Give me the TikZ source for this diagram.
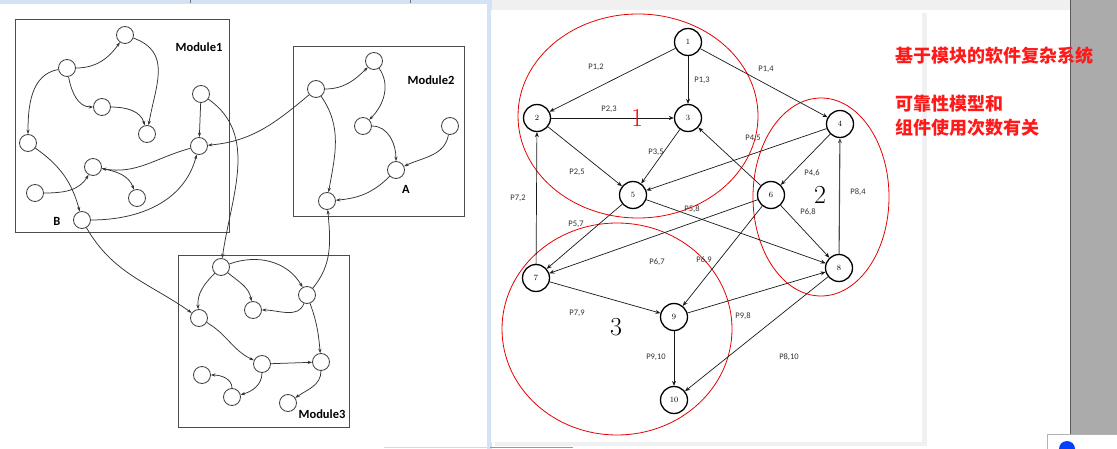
\documentclass[tikz,border=0pt]{standalone}
\usepackage{fontspec}
\newfontfamily\carlito{Carlito}
\newfontfamily\cjk{Noto Sans CJK SC}
\usetikzlibrary{arrows.meta}
\definecolor{topblue}{HTML}{D3E2F5}
\definecolor{topgray}{HTML}{F0F0F0}
\definecolor{barGray}{HTML}{ABABAB}
\definecolor{redtxt}{HTML}{FF1A1A}
\begin{document}
\begin{tikzpicture}[x=1pt,y=1pt,
  lnode/.style={circle, draw=black!75, line width=0.8pt, minimum size=17pt, inner sep=0pt, fill=white},
  ledge/.style={draw=black!80, line width=0.75pt, -{Stealth[length=4.5pt,width=3.2pt]}},
  modbox/.style={draw=black!70, line width=1pt},
  modlabel/.style={font=\carlito\bfseries\fontsize{12.5}{12.5}\selectfont, inner sep=0pt},
  rnode/.style={circle, draw=black, line width=1.3pt, minimum size=27pt, inner sep=0pt, fill=white, font=\fontsize{8}{8}\selectfont},
  redge/.style={draw=black!90, line width=0.7pt, -{Stealth[length=5pt,width=4pt]}},
  plabel/.style={font=\carlito\fontsize{8.5}{8.5}\selectfont, text=black!80, inner sep=0pt},
  redell/.style={draw=red!90!black, line width=0.8pt},
  bignum/.style={font=\fontsize{26}{26}\selectfont, inner sep=0pt},
  cjktext/.style={font=\cjk\bfseries\fontsize{18}{18}\selectfont, text=redtxt, anchor=west, inner sep=0pt}
]
\useasboundingbox (0,0) rectangle (1117,-449);
% ---------- background ----------
\fill[white] (0,0) rectangle (1117,-449);
\fill[topblue] (0,0) rectangle (487,-4);
\fill[topgray] (487,0) rectangle (1070,-10);
\fill[topblue] (487,0) rectangle (492,-449);
\draw[black!55, line width=0.8pt] (190,0) -- (190,-3);
\draw[black!55, line width=0.8pt] (410,0) -- (410,-3);
\draw[black!15, line width=0.8pt] (384,-447) -- (487,-447);
\fill[black!6] (922,-13) rectangle (927,-445);
\fill[black!6] (495,-442) rectangle (927,-446);
\fill[white] (491,-10) rectangle (922,-442);
\draw[black!40, line width=0.8pt] (490,-447) -- (573,-447);
\fill[barGray] (1070,0) rectangle (1117,-434);
\draw[black!65, line width=1pt] (1070,0) -- (1070,-434);
\filldraw[fill=white, draw=black!30] (1047,-434) rectangle (1120,-452);
\fill[blue!75!cyan] (1067,-449) circle (8);

% ---------- left figure: modules ----------
\draw[modbox] (15,-20) rectangle (229,-233);
\draw[modbox] (293,-47) rectangle (464,-217);
\draw[modbox] (178,-256) rectangle (349,-427);
\node[modlabel] (lab1) at (199,-47) {Module1};
\node[modlabel] (lab2) at (431,-80) {Module2};
\node[modlabel] (lab3) at (322,-414) {Module3};
\node[modlabel] (labB) at (57,-221) {B};
\node[modlabel] (labA) at (406,-189) {A};

% Module1 nodes
\node[lnode] (m1a) at (125,-35) {};
\node[lnode] (m1b) at (67,-68) {};
\node[lnode] (m1c) at (102,-107) {};
\node[lnode] (m1d) at (147,-134) {};
\node[lnode] (m1e) at (201,-94) {};
\node[lnode] (m1f) at (28,-143) {};
\node[lnode] (m1g) at (199,-146) {};
\node[lnode] (m1h) at (93,-167) {};
\node[lnode] (m1i) at (35,-193) {};
\node[lnode] (m1j) at (137,-198) {};
\node[lnode] (m1k) at (82,-220) {};
% Module2 nodes
\node[lnode] (m2a) at (316,-89) {};
\node[lnode] (m2b) at (374,-61) {};
\node[lnode] (m2c) at (363,-126) {};
\node[lnode] (m2d) at (450,-126) {};
\node[lnode] (m2e) at (396,-170) {};
\node[lnode] (m2f) at (327,-201) {};
% Module3 nodes
\node[lnode] (m3a) at (221,-267) {};
\node[lnode] (m3b) at (199,-318) {};
\node[lnode] (m3c) at (253,-310) {};
\node[lnode] (m3d) at (307,-295) {};
\node[lnode] (m3e) at (262,-364) {};
\node[lnode] (m3f) at (321,-362) {};
\node[lnode] (m3g) at (202,-375) {};
\node[lnode] (m3h) at (232,-397) {};
\node[lnode] (m3i) at (288,-403) {};

% Module1 edges
\draw[ledge] (m1b) to[out=0,in=235] (m1a);
\draw[ledge] (m1a) to[out=-20,in=80,looseness=1.2] (m1d);
\draw[ledge] (m1b) to[out=-80,in=180] (m1c);
\draw[ledge] (m1c) to[out=0,in=105] (m1d);
\draw[ledge] (m1b) to[out=190,in=90] (m1f);
\draw[ledge] (m1f) to[out=-35,in=105] (m1k);
\draw[ledge] (m1e) -- (m1g);
\draw[ledge] (m1g) to[out=195,in=-10] (m1h);
\draw[ledge] (m1i) to[out=0,in=-120] (m1h);
\draw[ledge] (m1h) to[out=-10,in=110] (m1j);
\draw[ledge] (m1k) to[out=0,in=-105] (m1g);
\draw[ledge] (m2a) to[out=220,in=5] (m1g);
\draw[ledge] (m1e) to[out=-35,in=82] (m3a);
\draw[ledge] (m1k) to[out=-60,in=145] (m3b);
% Module2 edges
\draw[ledge] (m2a) to[out=0,in=225] (m2b);
\draw[ledge] (m2b) to[out=-55,in=45] (m2c);
\draw[ledge] (m2c) to[out=0,in=90] (m2e);
\draw[ledge] (m2d) to[out=-100,in=25] (m2e);
\draw[ledge] (m2e) to[out=225,in=5] (m2f);
\draw[ledge] (m2a) to[out=-55,in=80] (m2f);
\draw[ledge] (m3d) to[out=50,in=-85] (m2f);
% Module3 edges
\draw[ledge] (m3a) to[out=20,in=120] (m3d);
\draw[ledge] (m3a) to[out=-40,in=100] (m3c);
\draw[ledge] (m3a) to[out=225,in=95] (m3b);
\draw[ledge] (m3d) to[out=-110,in=0] (m3c);
\draw[ledge] (m3d) to[out=-70,in=95] (m3f);
\draw[ledge] (m3b) to[out=-30,in=155] (m3e);
\draw[ledge] (m3e) -- (m3f);
\draw[ledge] (m3e) to[out=-90,in=15] (m3h);
\draw[ledge] (m3h) to[out=90,in=0] (m3g);
\draw[ledge] (m3f) to[out=-90,in=35] (m3i);

% ---------- right figure ----------
\draw[redell] (638,-116) ellipse [x radius=120pt, y radius=102pt];
\draw[redell] (821,-197) ellipse [x radius=68pt, y radius=99pt];
\draw[redell] (617,-329) ellipse [x radius=115pt, y radius=106pt];

\node[rnode] (n1) at (688,-42) {1};
\node[rnode] (n2) at (537,-118) {2};
\node[rnode] (n3) at (688,-118) {3};
\node[rnode] (n4) at (840,-124) {4};
\node[rnode] (n5) at (633,-195) {5};
\node[rnode] (n6) at (771,-195) {6};
\node[rnode] (n7) at (536,-278) {7};
\node[rnode] (n8) at (839,-268) {8};
\node[rnode] (n9) at (674,-317) {9};
\node[rnode] (n10) at (674,-400) {10};

\draw[redge] (n1) -- (n2);
\draw[redge] (n1) -- (n3);
\draw[redge] (n1) -- (n4);
\draw[redge] (n2) -- (n3);
\draw[redge] (n2) -- (n5);
\draw[redge] (n3) -- (n5);
\draw[redge] (n4) -- (n5);
\draw[redge] (n4) -- (n6);
\draw[redge] (n6) -- (n3);
\draw[redge] (n5) -- (n7);
\draw[redge] (n5) -- (n8);
\draw[redge] (n6) -- (n7);
\draw[redge] (n6) -- (n8);
\draw[redge] (n6) -- (n9);
\draw[redge] (n7) -- (n2);
\draw[redge] (n7) -- (n9);
\draw[redge] (n9) -- (n8);
\draw[redge] (n9) -- (n10);
\draw[redge] (n8) -- (n10);
\draw[redge, draw=black!70, line width=1.1pt] (n8) -- (n4);

\node[plabel] (p12) at (596,-67) {P1,2};
\node[plabel] (p13) at (702,-80) {P1,3};
\node[plabel] (p14) at (766,-69) {P1,4};
\node[plabel] (p23) at (609,-109) {P2,3};
\node[plabel] (p35) at (656,-152) {P3,5};
\node[plabel] (p25) at (577,-172) {P2,5};
\node[plabel] (p45) at (753,-138) {P4,5};
\node[plabel] (p72) at (518,-198) {P7,2};
\node[plabel] (p57) at (576,-224) {P5,7};
\node[plabel] (p58) at (692,-209) {P5,8};
\node[plabel] (p46) at (812,-173) {P4,6};
\node[plabel] (p68) at (808,-212) {P6,8};
\node[plabel] (p84) at (858,-192) {P8,4};
\node[plabel] (p67) at (657,-262) {P6,7};
\node[plabel] (p69) at (704,-260) {P6,9};
\node[plabel] (p79) at (577,-313) {P7,9};
\node[plabel] (p98) at (743,-316) {P9,8};
\node[plabel] (p910) at (656,-357) {P9,10};
\node[plabel] (p810) at (789,-357) {P8,10};

\node[bignum, text=red] (r1) at (637,-118) {1};
\node[bignum] (r2) at (820,-195) {2};
\node[bignum] (r3) at (616,-327) {3};

% ---------- Chinese text ----------
\node[cjktext] (t1) at (895,-56) {基于模块的软件复杂系统};
\node[cjktext] (t2) at (895,-104) {可靠性模型和};
\node[cjktext] (t3) at (895,-128) {组件使用次数有关};
\end{tikzpicture}
\end{document}
